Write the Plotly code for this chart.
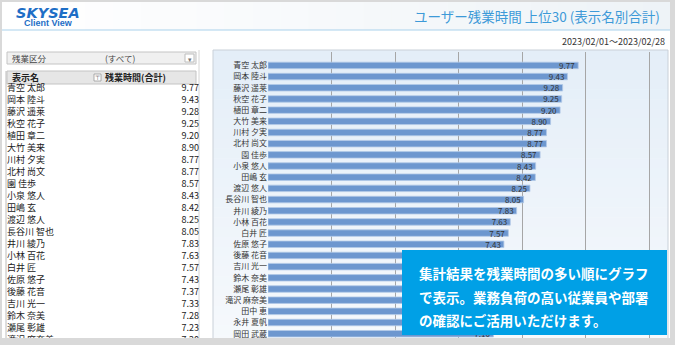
import plotly.graph_objects as go

# ---------------- data ----------------
names = ["青空 太郎", "岡本 陸斗", "藤沢 遥莱", "秋空 花子", "植田 章二", "大竹 美来",
         "川村 夕実", "北村 尚文", "園 佳歩", "小泉 悠人", "田嶋 玄", "渡辺 悠人",
         "長谷川 智也", "井川 綾乃", "小林 百花", "白井 匠", "佐原 悠子", "後藤 花音",
         "吉川 光一", "鈴木 奈美", "瀬尾 彰雄", "滝沢 麻奈美", "田中 恵", "永井 夏帆",
         "岡田 武蔵"]
hours = [9.77, 9.43, 9.28, 9.25, 9.20, 8.90, 8.77, 8.77, 8.57, 8.43, 8.42, 8.25,
         8.05, 7.83, 7.63, 7.57, 7.43, 7.37, 7.33, 7.28, 7.23, 7.20, 7.17, 7.13, 7.10]
grid_ticks = [2, 4, 6, 8, 10, 12]
title_text = "ユーザー残業時間 上位30 (表示名別合計)"
period_text = "2023/02/01～2023/02/28"
filter_label = "残業区分"
filter_value = "(すべて)"
col_name = "表示名"
col_value = "残業時間(合計)"
callout_lines = ["集計結果を残業時間の多い順にグラフ",
                 "で表示。業務負荷の高い従業員や部署",
                 "の確認にご活用いただけます。"]

W, H = 675, 345
JP = "Noto Sans CJK JP"
idx = list(range(len(names)))


def X(p):
    return p / W


def Y(p):
    return 1 - p / H


def lerp(c1, c2, t):
    a = [int(c1[i:i + 2], 16) for i in (1, 3, 5)]
    b = [int(c2[i:i + 2], 16) for i in (1, 3, 5)]
    return "#%02x%02x%02x" % tuple(round(a[k] + (b[k] - a[k]) * t) for k in range(3))


shapes = []


def rect(x0, y0, x1, y1, fill=None, line=None, lw=1, layer="below"):
    shapes.append(dict(type="rect", xref="paper", yref="paper",
                       x0=X(x0), x1=X(x1), y0=Y(y1), y1=Y(y0),
                       fillcolor=fill if fill else "rgba(0,0,0,0)",
                       line=dict(color=line if line else "rgba(0,0,0,0)", width=lw if line else 0),
                       layer=layer))


def hline(x0, x1, y, color, lw=1, layer="below"):
    shapes.append(dict(type="line", xref="paper", yref="paper", x0=X(x0), x1=X(x1),
                       y0=Y(y), y1=Y(y), line=dict(color=color, width=lw), layer=layer))


def vline(x, y0, y1, color, lw=1, layer="below"):
    shapes.append(dict(type="line", xref="paper", yref="paper", x0=X(x), x1=X(x),
                       y0=Y(y0), y1=Y(y1), line=dict(color=color, width=lw), layer=layer))


# white page
rect(2, 2, 670, 338, fill="#ffffff")
# header gradient (horizontal)
n = 24
for i in range(n):
    x0 = 2 + (670 - 2) * i / n
    x1 = 2 + (670 - 2) * (i + 1) / n + 0.5
    rect(x0, 2, x1, 30, fill=lerp("#ffffff", "#eef3f7", i / (n - 1)))
hline(2, 670, 30, "#a9d1ec", 1.2)

# chart panel gradient (vertical)
n = 30
for i in range(n):
    y0 = 50 + (345 - 50) * i / n
    y1 = 50 + (345 - 50) * (i + 1) / n + 0.5
    rect(213, y0, 668, y1, fill=lerp("#e4eef8", "#f6f9fc", i / (n - 1)))
rect(213, 50, 668, 346, line="#c9d0d8", lw=1)

# table decorations
vline(199, 50, 345, "#d4d4d4")
rect(7, 52, 196, 64, fill="#f0f0f0", line="#c4c4c4")
rect(185, 54, 194, 62, fill="#ffffff", line="#bdbdbd")
rect(7, 71, 196, 84, fill="#e6e6e6", line="#c4c4c4")
rect(94, 74, 101, 81, fill="#ffffff", line="#9a9a9a", lw=0.8)
vline(6, 71, 345, "#bcbcbc")

# overlays: outer gray frame + callout
rect(0, 338, 675, 345, fill="#d9d9d9", layer="above")
rect(670, 0, 675, 345, fill="#d9d9d9", layer="above")
rect(402, 250, 667, 335, fill="#00a0e6", layer="above")

annotations = []


def text(x, y, s, size, color="#333333", xanchor="left", bold=False, family=JP):
    annotations.append(dict(xref="paper", yref="paper", x=X(x), y=Y(y), text=f"<b>{s}</b>" if bold else s,
                            showarrow=False, xanchor=xanchor, yanchor="middle",
                            font=dict(size=size, color=color, family=family)))


# logo
text(48, 12.5, "<i>SKYSEA</i>", 14.5, "#1e6ec6", "center", True, "DejaVu Sans")
text(48, 23, "Client View", 9, "#1e6ec6", "center", True, "Liberation Sans")
# title / period
text(662, 16, title_text, 13.5, "#3d9ad8", "right")
text(667, 42, period_text, 9, "#333333", "right")
# table header texts
text(10, 58, filter_label, 8.5, "#444444")
text(103, 58, filter_value, 8.5, "#444444")
text(189.5, 58.5, "▾", 7, "#777777", "center")
text(10, 77.5, col_name, 9, "#222222", bold=True)
text(97.5, 77.5, "⊤", 6, "#555555", "center")
text(103, 77.5, col_value, 9, "#222222", bold=True)
# callout
for i, s in enumerate(callout_lines):
    text(417, 273 + 23.5 * i, s, 13.5, "#ffffff", bold=True)

fig = go.Figure()

fig.add_trace(go.Bar(
    x=hours, y=idx, orientation="h", width=0.58,
    marker=dict(color="#6d97cf", line=dict(color="#b3c9e7", width=0.8)),
    text=[f"{v:.2f}" for v in hours], textposition="inside", insidetextanchor="end",
    textfont=dict(size=8, color="#333333", family=JP), constraintext="none",
    hoverinfo="skip", cliponaxis=True,
))

fig.add_trace(go.Scatter(
    x=[0] * len(names), y=idx, mode="text", text=names, textposition="middle right",
    textfont=dict(size=9, color="#222222", family=JP), xaxis="x2", yaxis="y2",
    hoverinfo="skip", cliponaxis=True,
))
fig.add_trace(go.Scatter(
    x=[1] * len(hours), y=idx, mode="text", text=[f"{v:.2f}" for v in hours],
    textposition="middle left", textfont=dict(size=9, color="#222222", family=JP),
    xaxis="x2", yaxis="y2", hoverinfo="skip", cliponaxis=True,
))

row0, step = 65.4, 11.18
top, bottom = 52, 345
trow0, tstep, ttop = 88.8, 11.98, 80
fig.update_layout(
    width=W, height=H, margin=dict(l=0, r=0, t=0, b=0),
    paper_bgcolor="#d9d9d9", plot_bgcolor="rgba(0,0,0,0)",
    showlegend=False, shapes=shapes, annotations=annotations,
    font=dict(family=JP),
    xaxis=dict(domain=[X(268), X(662)], range=[0, (662 - 268) / 31.75], tickvals=grid_ticks,
               showticklabels=False, showgrid=True, gridcolor="#a6a6a6", gridwidth=1,
               zeroline=False, showline=False, fixedrange=True),
    yaxis=dict(domain=[0, Y(top)], range=[(bottom - row0) / step, -(row0 - top) / step],
               tickvals=idx, ticktext=names, showgrid=False, zeroline=False, showline=False,
               ticks="", tickfont=dict(size=8, color="#333333", family=JP), fixedrange=True),
    xaxis2=dict(domain=[X(7), X(199)], range=[0, 1], visible=False, anchor="y2", fixedrange=True),
    yaxis2=dict(domain=[0, Y(ttop)], range=[(bottom - trow0) / tstep, -(trow0 - ttop) / tstep],
                visible=False, anchor="x2", fixedrange=True),
)

fig.write_html("out.html")
